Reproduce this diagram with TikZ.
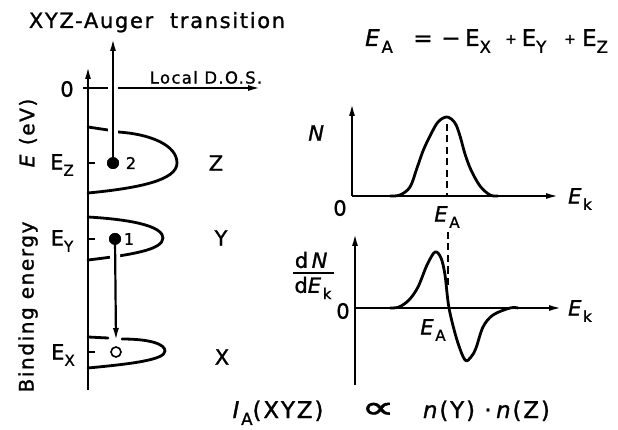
\documentclass[tikz,border=0pt]{standalone}
\usepackage{fontspec}
\setmainfont{DejaVu Sans}[LetterSpace=8,FakeBold=1.2]
\newfontfamily\plainfont{DejaVu Sans}[FakeBold=1.5]
\usetikzlibrary{arrows.meta}
\newcommand{\lsub}[1]{\raisebox{-0.3em}{\scalebox{0.72}{#1}}}
\newcommand{\smplus}{\raisebox{0.1em}{\scalebox{0.6}{+}}}
\begin{document}
\begin{tikzpicture}[x=1pt,y=-1pt,
  ax/.style={line width=2.2pt,-{Latex[length=13pt,width=6pt]}},
  axl/.style={line width=2.2pt},
  crv/.style={line width=2.8pt,line cap=round,line join=round},
  gapw/.style={preaction={draw=white,line width=10pt,-}},
  lbl/.style={inner sep=0pt,font=\fontsize{21}{25}\selectfont},
  frm/.style={inner sep=0pt,font=\fontsize{23}{27}\selectfont},
  rot/.style={inner sep=0pt,font=\fontsize{20}{24}\selectfont,rotate=90},
  mid/.style={inner sep=0pt,font=\fontsize{16.5}{20}\selectfont},
  sm/.style={inner sep=0pt,font=\fontsize{16}{19}\selectfont},
  dashln/.style={line width=2.2pt,dash pattern=on 7pt off 4.5pt}]
\useasboundingbox (0,0) rectangle (618,430);

% ---------------- left diagram ----------------
\node[lbl,anchor=base] (title) at (157,28) {XYZ-Auger\ \ transition};

\coordinate (axb) at (88,390);
\coordinate (axt) at (88,66);
\draw[ax] (axb) -- (axt);

% zero line
\coordinate (z0a) at (83,88);
\coordinate (z0d) at (261,88);
\draw[ax] (z0a) -- (z0d);
\node[lbl] (zero) at (67,89) {0};
\node[mid,anchor=south] (ldos) at (206,84) {Local D.O.S.};

% bands
\draw[crv] (88,127) -- (108,130) -- (118,132) .. controls (150,134) and (177,145) .. (177,163)
           .. controls (177,180) and (140,188) .. (88,193);
\draw[crv] (88,217) .. controls (140,220) and (163,228) .. (163,238)
           .. controls (163,250) and (130,255) .. (88,260);
\draw[crv] (88,337) -- (108,338);
\draw[crv] (122,339) .. controls (150,339) and (165,344) .. (165,351)
           .. controls (165,360) and (130,364) .. (88,368);

% ticks
\draw[axl] (88,163) -- (95,163);
\draw[axl] (88,239) -- (95,239);
\draw[axl] (88,352) -- (95,352);

% electrons
\node[circle,fill,inner sep=0pt,minimum size=12pt] (dz) at (113,163) {};
\node[circle,fill,inner sep=0pt,minimum size=12pt] (dy) at (115,239) {};
\node[circle,draw,line width=1.6pt,inner sep=0pt,minimum size=10pt] (dx) at (116,352) {};
\coordinate (topz) at (113,38);
\coordinate (xarr) at (116,341);
\draw[ax,gapw] (dz.center) -- (topz);
\draw[ax,gapw] (dy.center) -- (xarr);
\node[circle,fill,inner sep=0pt,minimum size=12pt] at (dz) {};
\node[circle,fill,inner sep=0pt,minimum size=12pt] at (dy) {};
\node[sm] (n2) at (131,163) {2};
\node[sm] (n1) at (129,239) {1};

% level labels
\node[lbl] (ez) at (62,165) {E\lsub{Z}};
\node[lbl] (ey) at (62,241) {E\lsub{Y}};
\node[lbl] (ex) at (63,355) {E\lsub{X}};
\node[lbl] (Z) at (216,163) {Z};
\node[lbl] (Y) at (221,238) {Y};
\node[lbl] (X) at (222,357) {X};

% rotated axis labels
\node[rot] (be) at (28,307) {Binding energy};
\node[rot] (eev) at (28,133) {\textit{E}\ (eV)};

% ---------------- formulas ----------------
\node[frm,anchor=base] (fA) at (379,46) {\textit{E}\lsub{A}};
\node[frm,anchor=base] (feq) at (423,46) {=};
\node[frm,anchor=base] (fm) at (451,46) {−};
\node[frm,anchor=base] (fX) at (478,46) {E\lsub{X}};
\node[frm,anchor=base] (fp1) at (511,46) {\smplus};
\node[frm,anchor=base] (fY) at (534,46) {E\lsub{Y}};
\node[frm,anchor=base] (fp2) at (570,46) {\smplus};
\node[frm,anchor=base] (fZ) at (595,46) {E\lsub{Z}};

\node[frm,anchor=base] (fI) at (278,418) {\textit{I}\lsub{A}(XYZ)};
\node[frm,anchor=base] (fprop) at (378,418) {\plainfont\scalebox{2}[1.35]{∝}};
\node[frm,anchor=base] (fnY) at (449,418) {\textit{n}(Y)};
\node[frm,anchor=base] (fdot) at (488,418) {·};
\node[frm,anchor=base] (fnZ) at (523,418) {\textit{n}(Z)};

% ---------------- upper graph ----------------
\coordinate (u0) at (352,196);
\coordinate (uy) at (352,103);
\coordinate (ux) at (559,196);
\draw[ax] (u0) -- (uy);
\draw[ax] (u0) -- (ux);
\node[lbl] (uN) at (317,133) {\textit{N}};
\node[lbl] (u0l) at (340,208) {0};
\node[lbl] (uEk) at (580,199) {\textit{E}\lsub{k}};
\node[lbl] (uEA) at (447,217) {\textit{E}\lsub{A}};
\draw[crv] plot[smooth,tension=0.55] coordinates {(390,196) (400,195) (410,187) (417,168) (423,151) (430,136) (438,122) (447,117) (455,123) (460,136) (465,154) (471,170) (480,186) (490,195) (498,196)};
\coordinate (upk) at (447,124);
\coordinate (ubase) at (447,196);
\draw[dashln] (upk) -- (ubase);

% ---------------- lower graph ----------------
\coordinate (l0) at (355,308);
\coordinate (ly) at (355,233);
\coordinate (lb) at (355,385);
\coordinate (lx) at (562,308);
\draw[ax] (lb) -- (ly);
\draw[ax] (l0) -- (lx);
\node[lbl] (l0l) at (343,311) {0};
\node[lbl] (lEk) at (580,311) {\textit{E}\lsub{k}};
\node[lbl] (lEA) at (433,330) {\textit{E}\lsub{A}};
\node[lbl] (dnum) at (312,260) {d\,\textit{N}};
\node[lbl] (dden) at (313,288) {d\textit{E}\lsub{k}};
\draw[axl] (293,273) -- (334,273);
\draw[crv] plot[smooth,tension=0.55] coordinates {(390,308) (399,307) (409,300) (418,287) (427,265) (435,252) (441,258) (445,275) (449,308) (457,340) (465,360) (471,357) (476,348) (483,327) (493,315) (510,308) (518,308)};
\coordinate (dtop) at (448,232);
\coordinate (dbot) at (448,287);
\draw[dashln] (dtop) -- (dbot);
\end{tikzpicture}
\end{document}
